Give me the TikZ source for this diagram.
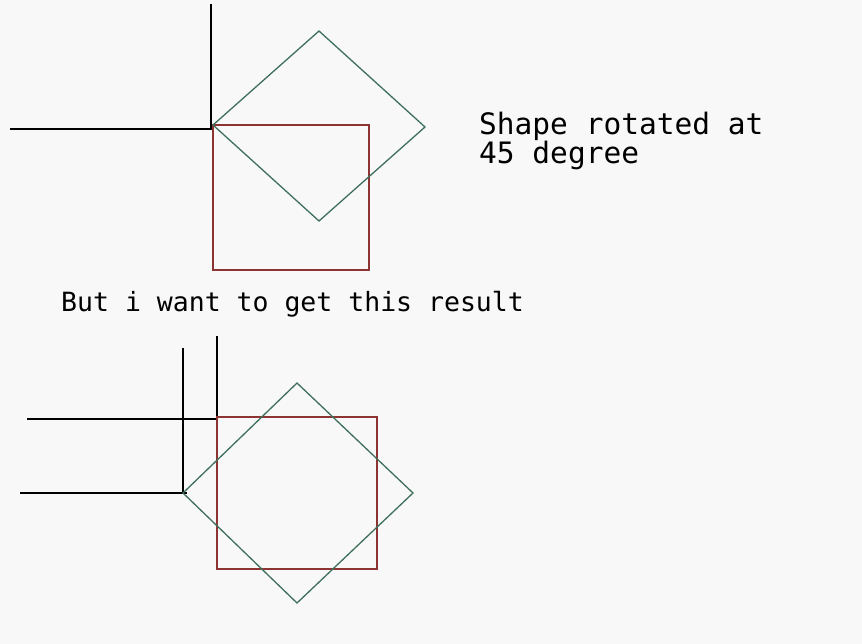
\documentclass[tikz,border=0pt]{standalone}
\usepackage{fontspec}
\newfontfamily\monofnt{DejaVu Sans Mono}
\definecolor{bgc}{RGB}{248,248,248}
\definecolor{redc}{RGB}{140,52,52}
\definecolor{greenc}{RGB}{62,112,92}
\begin{document}
\begin{tikzpicture}[x=1pt,y=-1pt,
  axis/.style={black,line width=2pt},
  sq/.style={redc,line width=1.6pt},
  dia/.style={greenc,line width=1.3pt,line join=miter},
  lbl/.style={inner sep=0pt,anchor=base west,font=\monofnt}]
\fill[bgc] (0,0) rectangle (862,644);
\useasboundingbox (0,0) rectangle (862,644);
% top part
\draw[axis] (211,4) -- (211,129);
\draw[axis] (10,129) -- (212,129);
\draw[sq] (213,125) rectangle (369,270);
\draw[dia] (319,31) -- (425,127) -- (319,221) -- (213,125) -- cycle;
\node[lbl,font=\monofnt\fontsize{29.5}{30}\selectfont] (t1) at (479,135) {Shape rotated at};
\node[lbl,font=\monofnt\fontsize{29.5}{30}\selectfont] (t2) at (479,164) {45 degree};
% middle text
\node[lbl,font=\monofnt\fontsize{26.5}{27}\selectfont] (t3) at (61,312) {But i want to get this result};
% bottom part
\draw[axis] (183,348) -- (183,494);
\draw[axis] (217,336) -- (217,419);
\draw[axis] (27,419) -- (217,419);
\draw[axis] (20,493) -- (187,493);
\draw[sq] (217,417) rectangle (377,569);
\draw[dia] (297,383) -- (413,493) -- (297,603) -- (183,493) -- cycle;
\end{tikzpicture}
\end{document}
